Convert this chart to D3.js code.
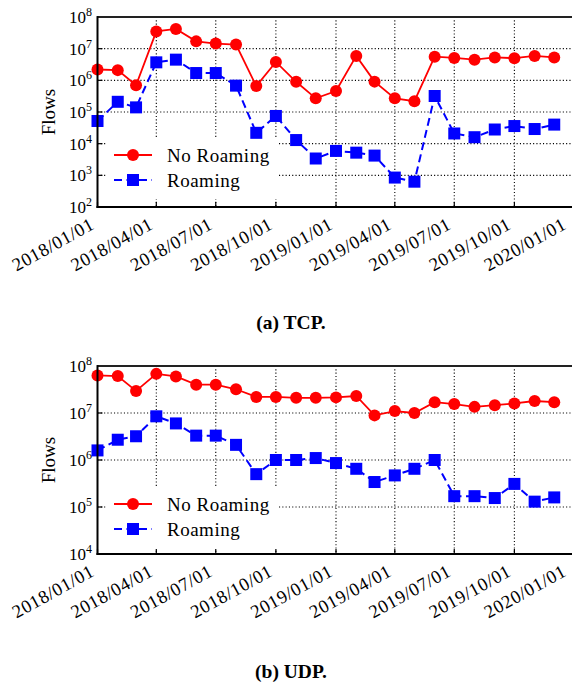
<!DOCTYPE html>
<html><head><meta charset="utf-8">
<script src="https://cdn.jsdelivr.net/npm/d3@7"></script>
<style>body{margin:0;background:#fff}svg{display:block}
svg text{font-family:"Liberation Serif","DejaVu Serif","Times New Roman",serif;}
</style>
</head><body>
<svg id="c" width="572" height="682"></svg>
<script>
// ---- data ----
const months = ["2018-01-01","2018-02-01","2018-03-01","2018-04-01","2018-05-01","2018-06-01",
  "2018-07-01","2018-08-01","2018-09-01","2018-10-01","2018-11-01","2018-12-01",
  "2019-01-01","2019-02-01","2019-03-01","2019-04-01","2019-05-01","2019-06-01",
  "2019-07-01","2019-08-01","2019-09-01","2019-10-01","2019-11-01","2019-12-01"];
const tcpNoRoaming = [2.2e6,2.1e6,7.0e5,3.5e7,4.2e7,1.7e7,1.45e7,1.35e7,6.6e5,3.8e6,9.0e5,2.7e5,
  4.6e5,5.9e6,9.1e5,2.7e5,2.2e5,5.6e6,5.1e6,4.5e6,5.3e6,5.0e6,5.9e6,5.3e6];
const tcpRoaming = [5.2e4,2.1e5,1.4e5,3.7e6,4.5e6,1.7e6,1.7e6,6.8e5,2.2e4,7.5e4,1.3e4,3.4e3,
  5.9e3,5.2e3,4.2e3,8.5e2,6.3e2,3.2e5,2.1e4,1.6e4,2.8e4,3.6e4,2.9e4,4.0e4];
const udpNoRoaming = [6.3e7,6.1e7,2.95e7,6.8e7,6.0e7,4.0e7,4.0e7,3.2e7,2.2e7,2.2e7,2.1e7,2.1e7,
  2.15e7,2.3e7,8.9e6,1.1e7,1.0e7,1.7e7,1.55e7,1.35e7,1.47e7,1.6e7,1.8e7,1.7e7];
const udpRoaming = [1.6e6,2.7e6,3.2e6,8.5e6,6.0e6,3.3e6,3.3e6,2.1e6,5.0e5,1.0e6,1.0e6,1.1e6,
  8.6e5,6.5e5,3.4e5,4.7e5,6.5e5,1.0e6,1.7e5,1.7e5,1.55e5,3.1e5,1.3e5,1.6e5];
const xTickDates = ["2018-01-01","2018-04-01","2018-07-01","2018-10-01","2019-01-01",
  "2019-04-01","2019-07-01","2019-10-01","2020-01-01"];
const xTickLabels = ["2018/01/01","2018/04/01","2018/07/01","2018/10/01","2019/01/01",
  "2019/04/01","2019/07/01","2019/10/01","2020/01/01"];
const seriesNames = ["No Roaming","Roaming"];
const tcpDecades = [2,3,4,5,6,7,8];
const udpDecades = [4,5,6,7,8];
const captions = ["(a) TCP.","(b) UDP."];

// ---- drawing ----
const svg = d3.select("#c");
const parse = d3.utcParse("%Y-%m-%d");
const dates = months.map(parse);
const tickDates = xTickDates.map(parse);
const RED = "#ff0000", BLUE = "#0000ff";
const R = 6;

const x = d3.scaleUtc().domain([parse("2018-01-01"), parse("2020-01-01")]).range([97.5, 574.5]);

const panels = [
  {top:17, bottom:207, decades:tcpDecades, no:tcpNoRoaming, ro:tcpRoaming, cap:captions[0], capY:329,
   legend:{x0:106, y0:139, w:172, h:60, r1:155, r2:180}},
  {top:366, bottom:554, decades:udpDecades, no:udpNoRoaming, ro:udpRoaming, cap:captions[1], capY:678,
   legend:{x0:106, y0:487, w:172, h:62, r1:504, r2:529}}
];

panels.forEach(p => {
  const g = svg.append("g");
  const y = d3.scaleLog().domain([Math.pow(10, p.decades[0]), Math.pow(10, p.decades[p.decades.length-1])])
    .range([p.bottom, p.top]);
  const x0 = x.range()[0], x1 = x.range()[1];

  // grid
  g.selectAll(".vg").data(tickDates.slice(1)).join("line")
    .attr("x1", d => x(d)).attr("x2", d => x(d)).attr("y1", p.top).attr("y2", p.bottom)
    .attr("stroke", "#000").attr("stroke-width", 1.1).attr("stroke-dasharray", "1.1,2.2");
  g.selectAll(".hg").data(p.decades.slice(1)).join("line")
    .attr("x1", x0).attr("x2", x1).attr("y1", d => y(Math.pow(10, d))).attr("y2", d => y(Math.pow(10, d)))
    .attr("stroke", "#000").attr("stroke-width", 1.1).attr("stroke-dasharray", "1.1,2.2");

  // data lines
  const line = d3.line().x((d,i) => x(dates[i])).y(d => y(d));
  g.append("path").attr("d", line(p.no)).attr("fill","none").attr("stroke", RED).attr("stroke-width", 1.8);
  g.append("path").attr("d", line(p.ro)).attr("fill","none").attr("stroke", BLUE).attr("stroke-width", 2)
    .attr("stroke-dasharray", "8,4.5");
  g.selectAll(".mc").data(p.no).join("circle")
    .attr("cx", (d,i) => x(dates[i])).attr("cy", d => y(d)).attr("r", R).attr("fill", RED);
  g.selectAll(".ms").data(p.ro).join("rect")
    .attr("x", (d,i) => x(dates[i]) - R).attr("y", d => y(d) - R)
    .attr("width", 2*R).attr("height", 2*R).attr("fill", BLUE);

  // legend
  const L = p.legend;
  g.append("rect").attr("x", L.x0).attr("y", L.y0).attr("width", L.w).attr("height", L.h).attr("fill", "#fff");
  g.append("line").attr("x1", 114).attr("x2", 152).attr("y1", L.r1).attr("y2", L.r1)
    .attr("stroke", RED).attr("stroke-width", 1.8);
  g.append("circle").attr("cx", 133).attr("cy", L.r1).attr("r", R).attr("fill", RED);
  g.append("line").attr("x1", 114).attr("x2", 152).attr("y1", L.r2).attr("y2", L.r2)
    .attr("stroke", BLUE).attr("stroke-width", 2).attr("stroke-dasharray", "8,4.5");
  g.append("rect").attr("x", 133-R).attr("y", L.r2-R).attr("width", 2*R).attr("height", 2*R).attr("fill", BLUE);
  g.selectAll(".lt").data(seriesNames).join("text")
    .attr("x", 167).attr("y", (d,i) => (i ? L.r2 : L.r1) + 6.5)
    .attr("font-size", 19).attr("letter-spacing", 0.5).text(d => d);

  // ticks (inward)
  g.selectAll(".xt").data(tickDates).join("line")
    .attr("x1", d => x(d)).attr("x2", d => x(d)).attr("y1", p.bottom).attr("y2", p.bottom - 5)
    .attr("stroke", "#000").attr("stroke-width", 1.2);
  g.selectAll(".yt").data(p.decades).join("line")
    .attr("x1", x0).attr("x2", x0 + 5).attr("y1", d => y(Math.pow(10, d))).attr("y2", d => y(Math.pow(10, d)))
    .attr("stroke", "#000").attr("stroke-width", 1.2);

  // frame
  g.append("line").attr("x1", x0).attr("x2", x1).attr("y1", p.top).attr("y2", p.top)
    .attr("stroke", "#222").attr("stroke-width", 1.8);
  g.append("line").attr("x1", x1).attr("x2", x1).attr("y1", p.top).attr("y2", p.bottom)
    .attr("stroke", "#222").attr("stroke-width", 1.5);
  g.append("line").attr("x1", x0).attr("x2", x0).attr("y1", p.top - 0.9).attr("y2", p.bottom + 1)
    .attr("stroke", "#000").attr("stroke-width", 2);
  g.append("line").attr("x1", x0 - 1).attr("x2", x1).attr("y1", p.bottom).attr("y2", p.bottom)
    .attr("stroke", "#000").attr("stroke-width", 2);

  // y tick labels
  const yl = g.selectAll(".yl").data(p.decades).join("text")
    .attr("x", 92).attr("y", d => y(Math.pow(10, d)) + 6)
    .attr("text-anchor", "end").attr("font-size", 17);
  yl.append("tspan").text("10");
  yl.append("tspan").attr("dy", -7).attr("font-size", 12).text(d => d);

  // x tick labels (last one kept inside the page)
  g.selectAll(".xl").data(tickDates).join("text")
    .attr("transform", d => `translate(${Math.min(x(d) - 2, 567.5)},${p.bottom + 21}) rotate(-29)`)
    .attr("text-anchor", "end").attr("font-size", 18.5)
    .attr("letter-spacing", 0.6)
    .text((d,i) => xTickLabels[i]);

  // y axis title
  g.append("text").attr("transform", `translate(55,${(p.top + p.bottom)/2}) rotate(-90)`)
    .attr("text-anchor", "middle").attr("font-size", 19).text("Flows");

  // caption
  g.append("text").attr("x", 291).attr("y", p.capY).attr("text-anchor", "middle")
    .attr("font-weight", "bold").attr("font-size", 19.5).text(p.cap);
});
</script>
</body></html>
